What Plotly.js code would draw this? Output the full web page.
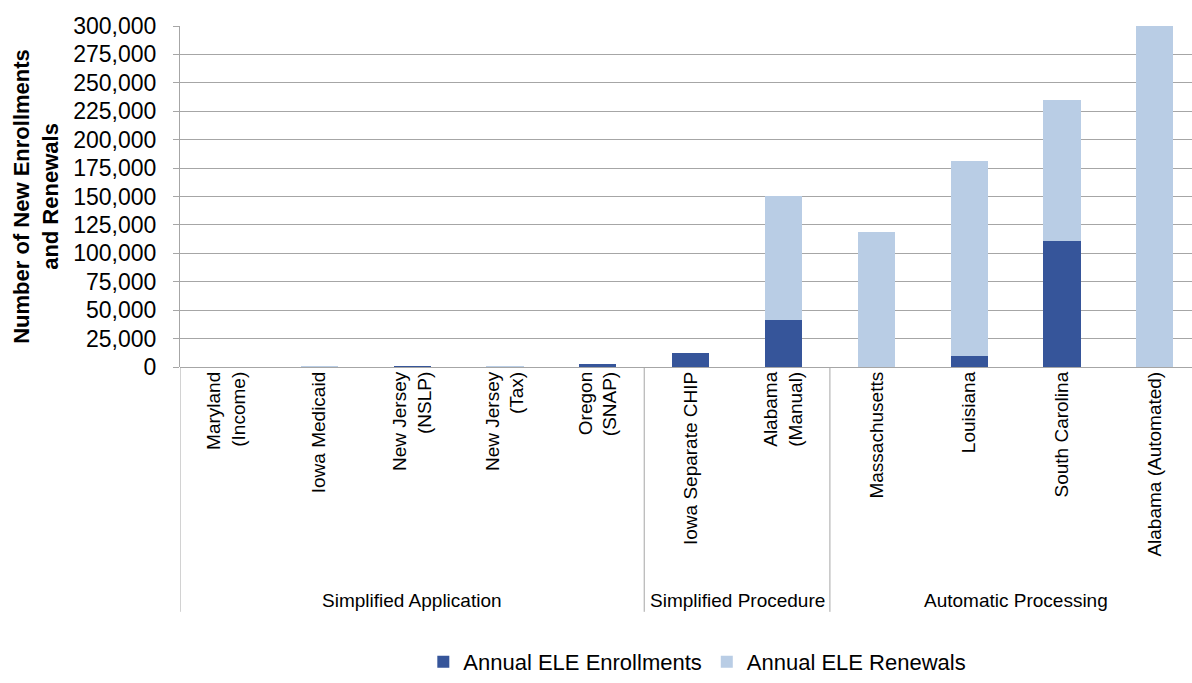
<!DOCTYPE html>
<html>
<head>
<meta charset="utf-8">
<script src="https://cdn.plot.ly/plotly-3.0.1.min.js"></script>
<style>html,body{margin:0;padding:0;background:#fff;overflow:hidden}#chart{width:1192px;height:683px}</style>
</head>
<body>
<div id="chart"></div>
<script>
const categories = ["Maryland<br>(Income)", "Iowa Medicaid", "New Jersey<br>(NSLP)", "New Jersey<br>(Tax)", "Oregon<br>(SNAP)", "Iowa Separate CHIP", "Alabama<br>(Manual)", "Massachusetts", "Louisiana", "South Carolina", "Alabama (Automated)"];
const enrollments = [0, 400, 900, 300, 2400, 12500, 41000, 0, 9500, 110500, 0];
const renewals = [0, 500, 0, 500, 0, 0, 109500, 118500, 172000, 124500, 300000];
const groups = ["Simplified Application", "Simplified Procedure", "Automatic Processing"];
const groupSpans = [[0, 4], [5, 6], [7, 10]];
const yTicks = [0, 25000, 50000, 75000, 100000, 125000, 150000, 175000, 200000, 225000, 250000, 275000, 300000];

const idx = categories.map((c, i) => i);
const grey = "#a6a6a6";
const traces = [
  {type: "bar", name: "Annual ELE Enrollments", x: idx, y: enrollments, marker: {color: "#36559a"}, hoverinfo: "skip"},
  {type: "bar", name: "Annual ELE Renewals", x: idx, y: renewals, marker: {color: "#b9cde5"}, hoverinfo: "skip"}
];

const shapes = [];
const annotations = [];
const bottomY = -0.718;
shapes.push({type: "line", xref: "x", yref: "paper", x0: -0.5, x1: -0.5, y0: 0, y1: bottomY, line: {color: grey, width: 1}});
groupSpans.forEach((s, i) => {
  if (i > 0) shapes.push({type: "line", xref: "x", yref: "paper", x0: s[0] - 0.5, x1: s[0] - 0.5, y0: 0, y1: bottomY, line: {color: grey, width: 1}});
  annotations.push({xref: "x", yref: "paper", x: (s[0] + s[1]) / 2, y: -0.685, text: groups[i], showarrow: false, xanchor: "center", yanchor: "middle", font: {size: 19, color: "#000"}});
});

const layout = {
  width: 1192, height: 683,
  margin: {l: 180, r: 0, t: 26, b: 316},
  paper_bgcolor: "#fff", plot_bgcolor: "#fff",
  barmode: "stack", bargap: 0.6,
  font: {family: "Liberation Sans, Arial, sans-serif", color: "#000"},
  xaxis: {
    type: "linear", range: [-0.5, 10.4], tickmode: "array", tickvals: idx, ticktext: categories,
    tickangle: -90, ticks: "", showgrid: false, zeroline: false, showline: false,
    tickfont: {size: 19, color: "#000"}, fixedrange: true
  },
  yaxis: {
    range: [0, 300000], tickmode: "array", tickvals: yTicks, tickformat: ",",
    ticks: "outside", ticklen: 6, tickcolor: grey, showline: true, linecolor: grey, linewidth: 1,
    showgrid: true, gridcolor: grey, gridwidth: 1, zeroline: true, zerolinecolor: grey,
    ticklabelstandoff: 12,
    tickfont: {size: 23, color: "#000"}, fixedrange: true,
    title: {text: "<b>Number of New Enrollments<br>and Renewals</b>", font: {size: 22, color: "#000"}, standoff: 8}
  },
  legend: {orientation: "h", x: 0.585, xanchor: "center", xref: "container", y: 0, yref: "container", yanchor: "bottom", valign: "middle", font: {size: 22, color: "#000"}, traceorder: "normal", itemwidth: 30, tracegroupgap: 0},
  shapes: shapes,
  annotations: annotations,
  showlegend: true
};

Plotly.newPlot("chart", traces, layout, {displayModeBar: false, staticPlot: true});
</script>
</body>
</html>
